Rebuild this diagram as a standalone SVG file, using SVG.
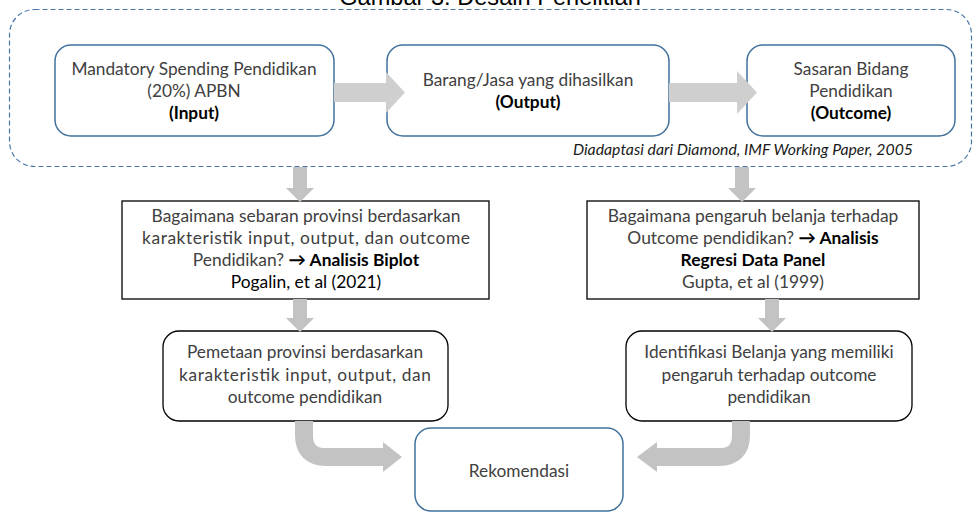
<svg xmlns="http://www.w3.org/2000/svg" width="976" height="512" viewBox="0 0 976 512">
<defs>
<style>
.bg{fill:#ffffff}
.frame{fill:none;stroke:#4A76A8;stroke-width:1.2;stroke-dasharray:5 3}
.blue{fill:#ffffff;stroke:#41719C;stroke-width:1.5}
.black{fill:#ffffff;stroke:#000000;stroke-width:1.3}
.t{font-family:Lato,"Liberation Sans",sans-serif;fill:#404040;text-anchor:middle}
.top{font-size:17.3px}
.q{font-size:17.4px}
.r2{font-size:17.3px}
.b{font-weight:bold;fill:#000000}
.k{fill:#000000}
.it{font-family:Lato,"Liberation Sans",sans-serif;font-style:italic;font-size:15.8px;fill:#1a1a1a;text-anchor:end}
.title{font-family:"Liberation Sans",Arial,sans-serif;font-size:23.6px;fill:#000000;text-anchor:middle}
.ar{fill:#CFCFCF}
.ar2{fill:#C3C3C3}
.bend{fill:none;stroke:#C3C3C3;stroke-width:18}
</style>
</defs>
<rect class="bg" x="0" y="0" width="976" height="512"/>
<text class="title" x="490" y="5">Gambar 3. Desain Penelitian</text>
<rect class="frame" x="9.5" y="9.5" width="962" height="157" rx="25"/>
<text class="it" x="913" y="155">Diadaptasi dari Diamond, IMF Working Paper, 2005</text>

<g id="input">
<rect class="blue" x="55" y="45" width="279" height="91" rx="16"/>
<text class="t top" x="194" y="75">Mandatory Spending Pendidikan</text>
<text class="t top" x="194" y="97">(20%) APBN</text>
<text class="t top b" x="194" y="119">(Input)</text>
</g>
<g id="output">
<rect class="blue" x="387" y="45" width="282" height="91" rx="16"/>
<text class="t top" x="528" y="86">Barang/Jasa yang dihasilkan</text>
<text class="t top b" x="528" y="108">(Output)</text>
</g>
<g id="outcome">
<rect class="blue" x="747" y="45" width="208" height="91" rx="16"/>
<text class="t top" x="851" y="75">Sasaran Bidang</text>
<text class="t top" x="851" y="97">Pendidikan</text>
<text class="t top b" x="851" y="119">(Outcome)</text>
</g>

<g id="q1">
<rect class="black" x="122" y="201" width="367" height="98"/>
<text class="t q" x="306" y="222">Bagaimana sebaran provinsi berdasarkan</text>
<text class="t q" x="306" y="244" textLength="328" lengthAdjust="spacing">karakteristik input, output, dan outcome</text>
<text class="t q" x="306" y="266">Pendidikan? <tspan class="b">→ Analisis Biplot</tspan></text>
<text class="t q k" x="306" y="288">Pogalin, et al (2021)</text>
</g>
<g id="q2">
<rect class="black" x="587" y="201" width="332" height="98"/>
<text class="t q" x="753" y="222">Bagaimana pengaruh belanja terhadap</text>
<text class="t q" x="753" y="244">Outcome pendidikan? <tspan class="b">→ Analisis</tspan></text>
<text class="t q b" x="753" y="266">Regresi Data Panel</text>
<text class="t q" x="753" y="288">Gupta, et al (1999)</text>
</g>

<g id="pemetaan">
<rect class="black" x="163" y="331" width="285" height="90" rx="16"/>
<text class="t r2" x="305" y="358">Pemetaan provinsi berdasarkan</text>
<text class="t r2" x="305" y="381" textLength="252" lengthAdjust="spacing">karakteristik input, output, dan</text>
<text class="t r2" x="305" y="403">outcome pendidikan</text>
</g>
<g id="identifikasi">
<rect class="black" x="626" y="331" width="286" height="90" rx="16"/>
<text class="t r2" x="769" y="358">Identifikasi Belanja yang memiliki</text>
<text class="t r2" x="769" y="381">pengaruh terhadap outcome</text>
<text class="t r2" x="769" y="403">pendidikan</text>
</g>
<g id="rekomendasi">
<rect class="blue" x="415" y="428" width="208" height="83" rx="16"/>
<text class="t r2" x="519" y="477">Rekomendasi</text>
</g>

<g id="connectors">
<polygon class="ar" points="334,83 386,83 386,72 405,92.5 386,113 386,102 334,102"/>
<polygon class="ar" points="669,83 737,83 737,71 757,92.5 737,114 737,102 669,102"/>
<polygon class="ar2" points="293,167 307,167 307,188 314,188 300,202 286,188 293,188"/>
<polygon class="ar2" points="735,167 749,167 749,188 756,188 742,202 728,188 735,188"/>
<polygon class="ar2" points="293,299 307,299 307,318 314,318 300,332 286,318 293,318"/>
<polygon class="ar2" points="765,299 779,299 779,318 786,318 772,332 758,318 765,318"/>
<path class="bend" d="M304,421 V435 Q304,457 326,457 H384"/>
<polygon class="ar2" points="383,442 402,457 383,472"/>
<path class="bend" d="M741,421 V435 Q741,457 719,457 H656"/>
<polygon class="ar2" points="657,442 637,457 657,472"/>
</g>
</svg>
